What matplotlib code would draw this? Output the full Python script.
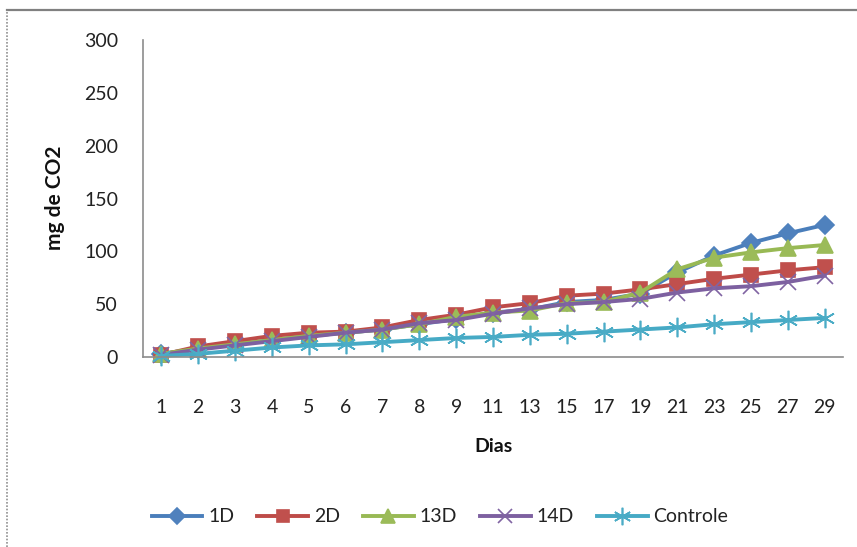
import matplotlib.pyplot as plt
from matplotlib.lines import Line2D
import numpy as np

dias = ["1", "2", "3", "4", "5", "6", "7", "8", "9", "11", "13", "15", "17", "19", "21", "23", "25", "27", "29"]
s_1d = [3, 8, 12, 16, 20, 23, 26, 31, 36, 42, 45, 52, 54, 60, 80, 96, 108, 117, 125]
s_2d = [2, 10, 15, 20, 23, 24, 28, 35, 40, 47, 51, 58, 60, 64, 69, 74, 78, 82, 85]
s_13d = [3, 8, 12, 16, 20, 23, 26, 31, 38, 42, 44, 51, 52, 61, 83, 94, 99, 103, 106]
s_14d = [2, 7, 11, 15, 19, 23, 26, 32, 35, 41, 46, 50, 52, 55, 61, 65, 67, 71, 77]
controle = [1, 3, 6, 9, 11, 12, 14, 16, 18, 19, 21, 22, 24, 26, 28, 31, 33, 35, 37]

plt.rcParams['font.family'] = ['Lato', 'DejaVu Sans']

fig = plt.figure(figsize=(8.57, 5.47), dpi=100)
ax = fig.add_axes([143/857, 1-357/547, 700/857, 317/547])

x = np.arange(len(dias))
# line colour, marker colour, marker, size
series = [
    ("1D", s_1d, "#4A7EBB", "#4F81BD", "D", 9),
    ("2D", s_2d, "#BE4B48", "#C0504D", "s", 10),
    ("13D", s_13d, "#98B954", "#9BBB59", "^", 11),
    ("14D", s_14d, "#7D60A0", "#8064A2", "x", 11),
    ("Controle", controle, "#46AAC5", "#4BACC6", (6, 2, 0), 14),
]
for name, vals, lc, mc, mk, ms in series:
    ax.plot(x, vals, color=lc, lw=2.8, marker=mk, ms=ms, mfc=mc, mec=mc,
            mew=1.2, label=name, clip_on=False)

ax.set_xlim(-0.5, len(dias) - 0.5)
ax.set_ylim(0, 300)
ax.set_yticks(range(0, 301, 50))
ax.set_xticks(x)
ax.set_xticklabels(dias)
ax.tick_params(axis="both", length=0, labelsize=14, colors="#222222")
ax.tick_params(axis="y", pad=18)
ax.tick_params(axis="x", pad=30)
for s in ["top", "right"]:
    ax.spines[s].set_visible(False)
for s in ["left", "bottom"]:
    ax.spines[s].set_color("#8c8c8c")
    ax.spines[s].set_linewidth(1.2)

fig.text(55/857, 1-198/547, "mg de CO2", rotation=90, ha="center", va="center",
         fontsize=15, fontweight="bold", color="#111111")
fig.text(493/857, 1-447/547, "Dias", ha="center", va="center",
         fontsize=14, fontweight="bold", color="#111111")

leg = ax.legend(loc="center", bbox_to_anchor=(440/857, 1-517/547), bbox_transform=fig.transFigure,
                ncol=5, frameon=False, fontsize=14, handlelength=2.6, columnspacing=1.2,
                handletextpad=0.3, markerscale=0.9)
for t in leg.get_texts():
    t.set_color("#222222")

# outer frame of the chart
fig.add_artist(Line2D([7/857, 1], [1-10/547, 1-10/547], transform=fig.transFigure,
                      color="#808080", lw=1.6))
fig.add_artist(Line2D([7/857, 7/857], [0, 1-10/547], transform=fig.transFigure,
                      color="#909090", lw=1.2, ls=(0, (1, 1))))

fig.savefig("out.png", dpi=100)
